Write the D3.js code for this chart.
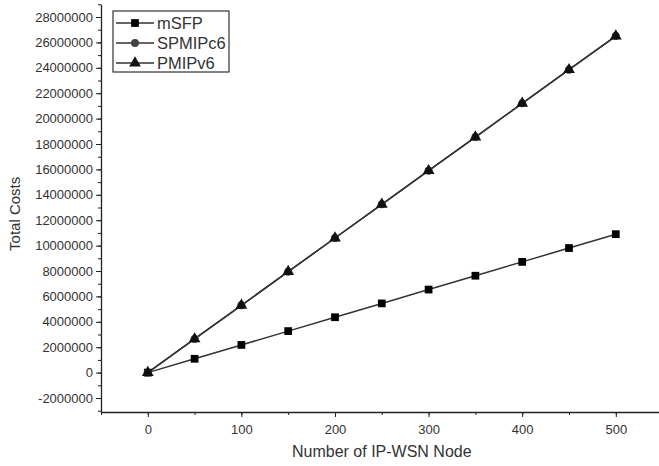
<!DOCTYPE html>
<html>
<head>
<meta charset="utf-8">
<script src="https://cdn.jsdelivr.net/npm/d3@7"></script>
<style>
  body { margin: 0; background: #fff; }
  svg { font-family: "Liberation Sans", Arial, sans-serif; }
</style>
</head>
<body>
<div id="chart"></div>
<script>
const nodes = [0, 50, 100, 150, 200, 250, 300, 350, 400, 450, 500];
const mSFP = [0, 1090000, 2180000, 3270000, 4360000, 5450000, 6540000, 7630000, 8720000, 9810000, 10900000];
const SPMIPc6 = [0, 2650000, 5300000, 7950000, 10600000, 13250000, 15900000, 18550000, 21200000, 23850000, 26500000];
const PMIPv6 = [0, 2650000, 5300000, 7950000, 10600000, 13250000, 15900000, 18550000, 21200000, 23850000, 26500000];
const seriesNames = ["mSFP", "SPMIPc6", "PMIPv6"];
const xTicks = [0, 100, 200, 300, 400, 500];
const yTicks = [-2000000, 0, 2000000, 4000000, 6000000, 8000000, 10000000, 12000000, 14000000,
  16000000, 18000000, 20000000, 22000000, 24000000, 26000000, 28000000];

const width = 659, height = 466;

const x = d3.scaleLinear().domain([-50, 550]).range([101, 662.6]);
const y = d3.scaleLinear().domain([-3100000, 29000000]).range([412, 4.3]);

const svg = d3.select("#chart").append("svg")
    .attr("width", width)
    .attr("height", height);

const ink = "#222";

// minor ticks first
const yMinor = d3.range(-3000000, 29000001, 1000000);
svg.append("g")
    .attr("transform", "translate(101,0)")
    .call(d3.axisLeft(y).tickValues(yMinor).tickSize(3).tickFormat(""))
    .call(g => g.select(".domain").remove())
    .call(g => g.selectAll("line").attr("stroke", ink));

const xMinor = d3.range(-50, 551, 50);
svg.append("g")
    .attr("transform", "translate(0,412)")
    .call(d3.axisBottom(x).tickValues(xMinor).tickSize(3).tickFormat(""))
    .call(g => g.select(".domain").remove())
    .call(g => g.selectAll("line").attr("stroke", ink));

// Y axis
svg.append("g")
    .attr("transform", "translate(101,0)")
    .call(d3.axisLeft(y).tickValues(yTicks).tickSize(5).tickSizeOuter(0).tickPadding(3).tickFormat(d => String(d)))
    .call(g => g.select(".domain").attr("stroke", ink).attr("stroke-width", 1.3))
    .call(g => g.selectAll("line").attr("stroke", ink))
    .call(g => g.selectAll("text").attr("fill", "#333").attr("font-size", 13)
      .attr("font-family", "Liberation Sans, Arial, sans-serif"));

// X axis
svg.append("g")
    .attr("transform", "translate(0,412)")
    .call(d3.axisBottom(x).tickValues(xTicks).tickSize(5).tickSizeOuter(0).tickPadding(8))
    .call(g => g.select(".domain").attr("stroke", ink).attr("stroke-width", 1.3))
    .call(g => g.selectAll("line").attr("stroke", ink))
    .call(g => g.selectAll("text").attr("fill", "#333").attr("font-size", 13)
      .attr("font-family", "Liberation Sans, Arial, sans-serif"));

// axis titles
svg.append("text")
    .attr("x", (x(0) + x(500)) / 2)
    .attr("y", 457)
    .attr("text-anchor", "middle")
    .attr("fill", "#333")
    .attr("font-size", 16)
    .text("Number of IP-WSN Node");

svg.append("text")
    .attr("transform", "translate(20," + y(12500000) + ") rotate(-90)")
    .attr("text-anchor", "middle")
    .attr("fill", "#333")
    .attr("font-size", 15)
    .text("Total Costs");

// lines
const line = d3.line()
    .x((d, i) => x(nodes[i]))
    .y(d => y(d));

const allSeries = [mSFP, SPMIPc6, PMIPv6];
const symbols = [d3.symbolSquare, d3.symbolCircle, d3.symbolTriangle];
const symSize = [60, 50, 60];
const symColor = ["#000", "#444", "#111"];

allSeries.forEach(s => {
  svg.append("path")
      .datum(s)
      .attr("fill", "none")
      .attr("stroke", "#333")
      .attr("stroke-width", 1.5)
      .attr("d", line);
});

allSeries.forEach((s, k) => {
  svg.append("g").selectAll("path")
    .data(s)
    .join("path")
      .attr("transform", (d, i) => "translate(" + x(nodes[i]) + "," + y(d) + ")")
      .attr("d", d3.symbol().type(symbols[k]).size(symSize[k]))
      .attr("fill", symColor[k]);
});

// legend
const legend = svg.append("g");
legend.append("rect")
    .attr("x", 113).attr("y", 11)
    .attr("width", 116).attr("height", 61)
    .attr("fill", "#fff")
    .attr("stroke", "#333")
    .attr("stroke-width", 1.2);

seriesNames.forEach((name, k) => {
  const ly = 23 + k * 20;
  legend.append("line")
      .attr("x1", 116).attr("x2", 154)
      .attr("y1", ly).attr("y2", ly)
      .attr("stroke", "#333").attr("stroke-width", 1.5);
  legend.append("path")
      .attr("transform", "translate(135," + ly + ")")
      .attr("d", d3.symbol().type(symbols[k]).size(symSize[k]))
      .attr("fill", symColor[k]);
  legend.append("text")
      .attr("x", 157).attr("y", ly + 6)
      .attr("fill", "#333")
      .attr("font-size", 16.5)
      .text(name);
});
</script>
</body>
</html>
